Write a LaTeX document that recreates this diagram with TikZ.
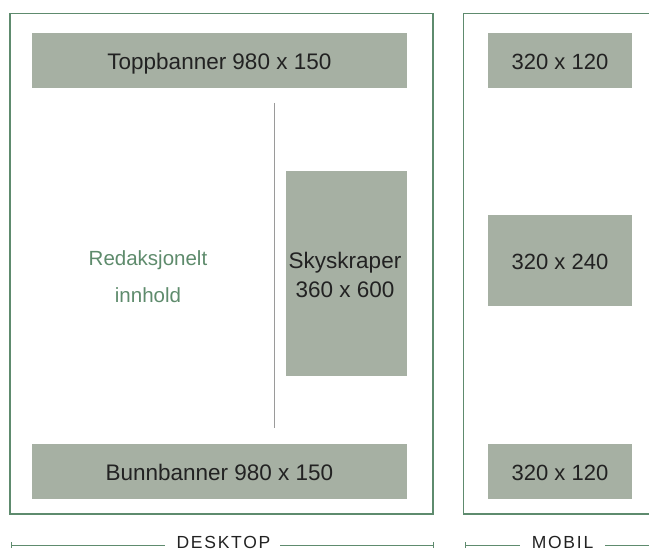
\documentclass[tikz,border=0pt]{standalone}
\usepackage{fontspec}
\setmainfont{Liberation Sans}
\usetikzlibrary{calc}
\definecolor{frameg}{HTML}{5E8B6E}
\definecolor{boxg}{HTML}{A6B0A3}
\definecolor{txt}{HTML}{222222}
\definecolor{txtg}{HTML}{5E8B6C}
\definecolor{vline}{HTML}{9A9A9A}
\tikzset{
  frame/.style={draw=frameg, line width=1.2pt},
  adbox/.style={fill=boxg, draw=none, inner sep=0pt, text=txt, font=\fontsize{22.5}{26}\selectfont, text height=17.6pt, text depth=0pt},
  adtext/.style={text=txt, inner sep=0pt, anchor=base, font=\fontsize{22.5}{26}\selectfont},
  redtext/.style={text=txtg, inner sep=0pt, anchor=base, font=\fontsize{20.5}{24}\selectfont},
  dimline/.style={draw=frameg, line width=1pt},
  dimlabel/.style={text=txt, font=\fontsize{17.5}{20}\selectfont\addfontfeatures{LetterSpace=10}, inner sep=0pt, anchor=base},
}
\begin{document}
\begin{tikzpicture}[x=1pt,y=-1pt]
\useasboundingbox (0,0) rectangle (649,551);
% frames
\draw[frame] (10,13.3) rectangle (433,514);
\draw[frame] (649,13.3) -- (463.7,13.3) -- (463.7,514) -- (649,514);
% desktop boxes
\node[adbox, minimum width=374.7pt, minimum height=55pt] (top) at (219.4,60.5) {Toppbanner 980 x 150};
\node[adbox, minimum width=374.7pt, minimum height=55pt] (bottom) at (219.4,471.3) {Bunnbanner 980 x 150};
\node[fill=boxg, inner sep=0pt, minimum width=121pt, minimum height=205pt] (sky) at (346.5,273.3) {};
\node[adtext] (sky1) at (345,268) {Skyskraper};
\node[adtext] (sky2) at (345,297) {360 x 600};
\coordinate (vt) at (274,103);
\coordinate (vb) at (274,428);
\draw[vline, line width=1pt] (vt) -- (vb);
\node[redtext] (red1) at (148,265.7) {Redaksjonelt};
\node[redtext] (red2) at (148,302.7) {innhold};
% mobile boxes
\node[adbox, minimum width=144pt, minimum height=55pt, font=\fontsize{22}{26}\selectfont] (m1) at (560,60.5) {320 x 120};
\node[adbox, minimum width=144pt, minimum height=91pt, font=\fontsize{22}{26}\selectfont] (m2) at (560,260.3) {320 x 240};
\node[adbox, minimum width=144pt, minimum height=55pt, font=\fontsize{22}{26}\selectfont] (m3) at (560,471.3) {320 x 120};
% dimension lines
\coordinate (dl) at (11.7,545);
\coordinate (dr) at (433.7,545);
\coordinate (ml) at (465,545);
\coordinate (mr) at (649,545);
\coordinate (dla) at (164.6,545);
\coordinate (drb) at (280,545);
\coordinate (mla) at (520,545);
\coordinate (mrb) at (605,545);
\node[dimlabel] (desk) at (223.5,548.6) {DESKTOP};
\node[dimlabel] (mob) at (562.5,548.6) {MOBIL};
\draw[dimline] (dl) -- (dla);
\draw[dimline] (drb) -- (dr);
\draw[dimline] ($(dl)+(0,-3)$) -- ($(dl)+(0,3)$);
\draw[dimline] ($(dr)+(0,-3)$) -- ($(dr)+(0,3)$);
\draw[dimline] (ml) -- (mla);
\draw[dimline] (mrb) -- (mr);
\draw[dimline] ($(ml)+(0,-3)$) -- ($(ml)+(0,3)$);
\end{tikzpicture}
\end{document}
